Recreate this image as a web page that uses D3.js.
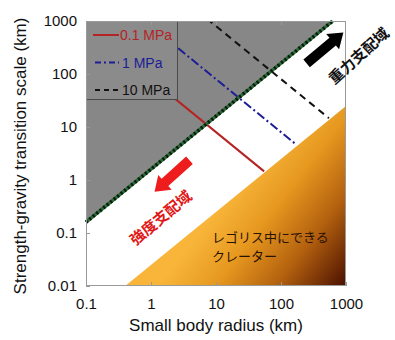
<!DOCTYPE html>
<html><head><meta charset="utf-8">
<script src="https://cdn.jsdelivr.net/npm/d3@7/dist/d3.min.js"></script>
<style>body{margin:0;background:#fff}svg{display:block}</style>
</head><body><svg id="c" width="395" height="340"></svg>
<script>
// ---- data ----
const xTicks = [0.1, 1, 10, 100, 1000];
const yTicks = [0.01, 0.1, 1, 10, 100, 1000];
const seriesNames = ["0.1 MPa", "1 MPa", "10 MPa"];
const seriesColors = ["#b52424", "#1c1c96", "#111111"];
const seriesDash = [null, "9,3,2,3", "7,5"];
const transitionProduct = [80, 800, 8000];   // y = C / x
const seriesEndX = [55, 165, 545];
const strengthGravityLine = [[0.1, 0.16], [625, 1000]];  // y = 1.6 x
const regolithLine = [[0.4, 0.01], [1000, 25]];          // y = 0.025 x

const svg = d3.select("#c");
const x = d3.scaleLog().domain([0.1, 1000]).range([86, 346]);
const y = d3.scaleLog().domain([0.01, 1000]).range([286, 21]);
const font = "'Liberation Sans', Arial, sans-serif";
const jfont = "'Noto Sans CJK JP', sans-serif";

const defs = svg.append("defs");
defs.append("clipPath").attr("id", "clip").append("rect")
  .attr("x", x(0.1)).attr("y", y(1000)).attr("width", x(1000) - x(0.1)).attr("height", y(0.01) - y(1000));
const g = defs.append("linearGradient").attr("id", "og").attr("gradientUnits", "userSpaceOnUse")
  .attr("x1", 228).attr("y1", 195).attr("x2", x(1000)).attr("y2", y(0.01));
[[0, "#f8b53a"], [0.3, "#e6981f"], [0.62, "#b5620f"], [1, "#4a0f00"]].forEach(s =>
  g.append("stop").attr("offset", s[0]).attr("stop-color", s[1]));

const line = d3.line().x(d => x(d[0])).y(d => y(d[1]));

// regolith crater region
const rl = regolithLine;
svg.append("path").attr("d", line([rl[0], rl[1], [1000, 0.01]]) + "Z").attr("fill", "url(#og)");

// strength region (gray)
const sg = strengthGravityLine;
svg.append("path").attr("d", line([sg[0], sg[1], [0.1, 1000]]) + "Z").attr("fill", "#878787");

// transition lines
const lg = svg.append("g").attr("clip-path", "url(#clip)");
transitionProduct.forEach((C, i) => {
  const pts = [[0.1, C / 0.1], [seriesEndX[i], C / seriesEndX[i]]];
  lg.append("path").attr("d", line(pts)).attr("fill", "none")
    .attr("stroke", seriesColors[i]).attr("stroke-width", 2)
    .attr("stroke-dasharray", seriesDash[i]);
});

// strength-gravity boundary (dotted green/black)
svg.append("path").attr("d", line(sg)).attr("stroke", "#2a6a3a").attr("stroke-width", 3.5).attr("fill", "none");
svg.append("path").attr("d", line(sg)).attr("stroke", "#0a1a0a").attr("stroke-width", 3.5)
  .attr("stroke-dasharray", "2,2.5").attr("fill", "none");

// legend
const L = svg.append("g");
L.append("rect").attr("x", 86.5).attr("y", 21.5).attr("width", 91).attr("height", 78)
  .attr("fill", "#8b8b8b").attr("stroke", "#4a4a4a");
seriesNames.forEach((n, i) => {
  const yy = 35 + i * 27.5;
  L.append("line").attr("x1", i === 0 ? 93 : 95).attr("x2", 119).attr("y1", yy).attr("y2", yy)
    .attr("stroke", seriesColors[i]).attr("stroke-width", 2).attr("stroke-dasharray", i === 1 ? "6,3,2,3" : (i === 2 ? "5,4" : null));
  L.append("text").attr("x", i === 0 ? 120 : 122).attr("y", yy + 5).text(n)
    .attr("font-family", font).attr("font-size", 14).attr("fill", seriesColors[i]);
});

// frame
svg.append("rect").attr("x", 86.5).attr("y", 21.5).attr("width", 259).attr("height", 264)
  .attr("fill", "none").attr("stroke", "#9a9a9a");

// axes
const fmt = d => String(d);
const ax = svg.append("g").attr("transform", `translate(0,${y(0.01)})`)
  .call(d3.axisBottom(x).tickValues(xTicks).tickFormat(fmt).tickSizeInner(-4).tickSizeOuter(0).tickPadding(12));
const ay = svg.append("g").attr("transform", `translate(${x(0.1)},0)`)
  .call(d3.axisLeft(y).tickValues(yTicks).tickFormat(fmt).tickSizeInner(-4).tickSizeOuter(0).tickPadding(9));
const at = svg.append("g").attr("transform", `translate(0,${y(1000)})`)
  .call(d3.axisTop(x).tickValues(xTicks.slice(1, -1)).tickFormat("").tickSizeInner(-4).tickSizeOuter(0));
[ax, ay, at].forEach(a => {
  a.select(".domain").remove();
  a.selectAll("line").attr("stroke", "#9a9a9a");
  a.selectAll("text").attr("font-family", font).attr("font-size", 15).attr("fill", "#111");
});

// titles
svg.append("text").attr("x", 216).attr("y", 331).attr("text-anchor", "middle")
  .attr("font-family", font).attr("font-size", 17).attr("fill", "#111").text("Small body radius (km)");
svg.append("text").attr("transform", "translate(26,156) rotate(-90)").attr("text-anchor", "middle")
  .attr("font-family", font).attr("font-size", 17).attr("fill", "#111").text("Strength-gravity transition scale (km)");

// annotations
svg.append("text").attr("x", 212).attr("y", 242).attr("font-family", jfont).attr("font-size", 13)
  .attr("fill", "#2a1200").text("レゴリス中にできる");
svg.append("text").attr("x", 212).attr("y", 261).attr("font-family", jfont).attr("font-size", 13)
  .attr("fill", "#2a1200").text("クレーター");

svg.append("text").attr("transform", "translate(160,217) rotate(-40)").attr("text-anchor", "middle")
  .attr("dominant-baseline", "central").attr("font-family", jfont).attr("font-weight", "bold")
  .attr("font-size", 15).attr("fill", "#e01818").text("強度支配域");
svg.append("text").attr("transform", "translate(358,55) rotate(-42)").attr("text-anchor", "middle")
  .attr("dominant-baseline", "central").attr("font-family", jfont).attr("font-weight", "bold")
  .attr("font-size", 15).attr("fill", "#111").text("重力支配域");

// arrows (drawn pointing right along +x, then rotated)
function arrow(cx, cy, ang, len, color) {
  const sw = 5, hw = 10, hl = 14;
  const p = [[-len / 2, -sw], [len / 2 - hl, -sw], [len / 2 - hl, -hw], [len / 2, 0],
             [len / 2 - hl, hw], [len / 2 - hl, sw], [-len / 2, sw]];
  svg.append("path").attr("d", "M" + p.map(d => d.join(",")).join("L") + "Z")
    .attr("fill", color).attr("transform", `translate(${cx},${cy}) rotate(${ang})`);
}
arrow(325, 48, -40, 48, "#000");
arrow(172, 176, 138, 47, "#ee1c1c");
</script></body></html>
